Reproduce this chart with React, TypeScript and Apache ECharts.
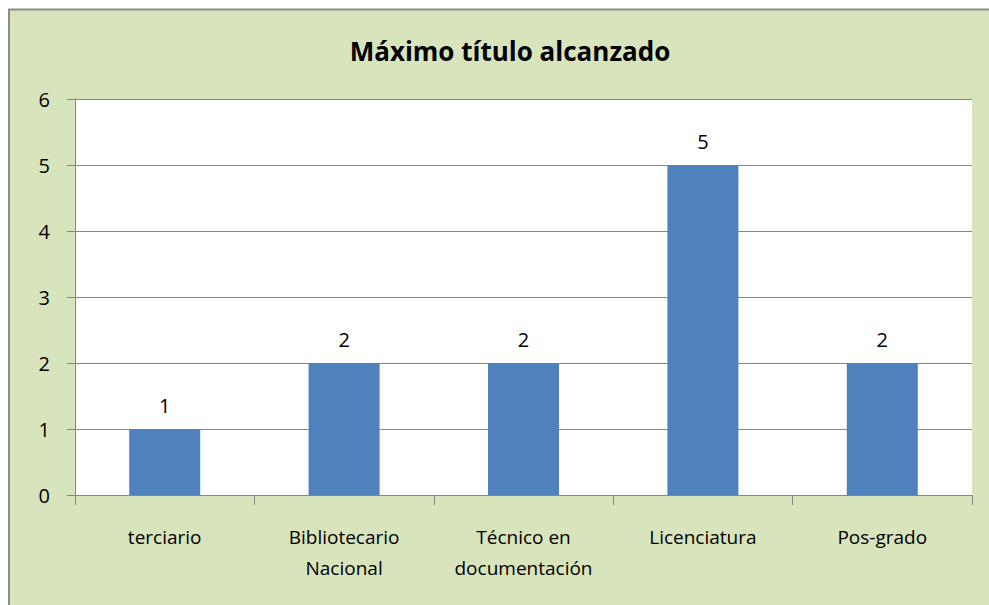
import React, { useEffect, useRef } from "react";
import * as echarts from "echarts";

const title = "Máximo título alcanzado";
const categories = ["terciario", "Bibliotecario\nNacional", "Técnico en\ndocumentación", "Licenciatura", "Pos-grado"];
const values = [1, 2, 2, 5, 2];
const yTicks = { min: 0, max: 6, interval: 1 };

const FONT = "'Open Sans', sans-serif";

export default function App() {
  const ref = useRef<HTMLDivElement>(null);
  useEffect(() => {
    if (!ref.current) return;
    const chart = echarts.init(ref.current, null, { renderer: "svg" });
    chart.setOption({
      animation: false,
      backgroundColor: "#ffffff",
      graphic: [
        {
          type: "rect",
          z: -100,
          silent: true,
          shape: { x: 9, y: 9.5, width: 1100, height: 700 },
          style: { fill: "#d8e4bc", stroke: "#8c8c8c", lineWidth: 2 },
        },
      ],
      title: {
        text: title,
        left: 505,
        top: 33,
        textAlign: "center",
        textStyle: { fontFamily: FONT, fontSize: 26, fontWeight: "bold", color: "#000" },
      },
      grid: {
        left: 75,
        top: 99,
        width: 897,
        height: 396,
        show: true,
        backgroundColor: "#ffffff",
        borderWidth: 0,
        containLabel: false,
      },
      xAxis: {
        type: "category",
        data: categories,
        boundaryGap: true,
        axisLine: { show: true, lineStyle: { color: "#868686", width: 1 } },
        axisTick: { show: true, length: 10, interval: 0, lineStyle: { color: "#868686" } },
        axisLabel: {
          interval: 0,
          margin: 26,
          fontFamily: FONT,
          fontSize: 19,
          lineHeight: 31,
          color: "#000",
        },
      },
      yAxis: {
        type: "value",
        min: yTicks.min,
        max: yTicks.max,
        interval: yTicks.interval,
        axisLine: { show: true, lineStyle: { color: "#868686", width: 1 } },
        axisTick: { show: true, length: 8, lineStyle: { color: "#868686" } },
        splitLine: { show: true, lineStyle: { color: "#868686", width: 1 } },
        axisLabel: { margin: 25, fontFamily: FONT, fontSize: 20, color: "#000" },
      },
      series: [
        {
          type: "bar",
          data: values,
          barWidth: 71,
          itemStyle: { color: "#4f81bd" },
          label: {
            show: true,
            position: "top",
            distance: 14,
            fontFamily: FONT,
            fontSize: 20,
            color: "#000",
          },
        },
      ],
    });
    return () => chart.dispose();
  }, []);
  return <div ref={ref} style={{ position: "fixed", left: 0, top: 0, width: 989, height: 605 }} />;
}
